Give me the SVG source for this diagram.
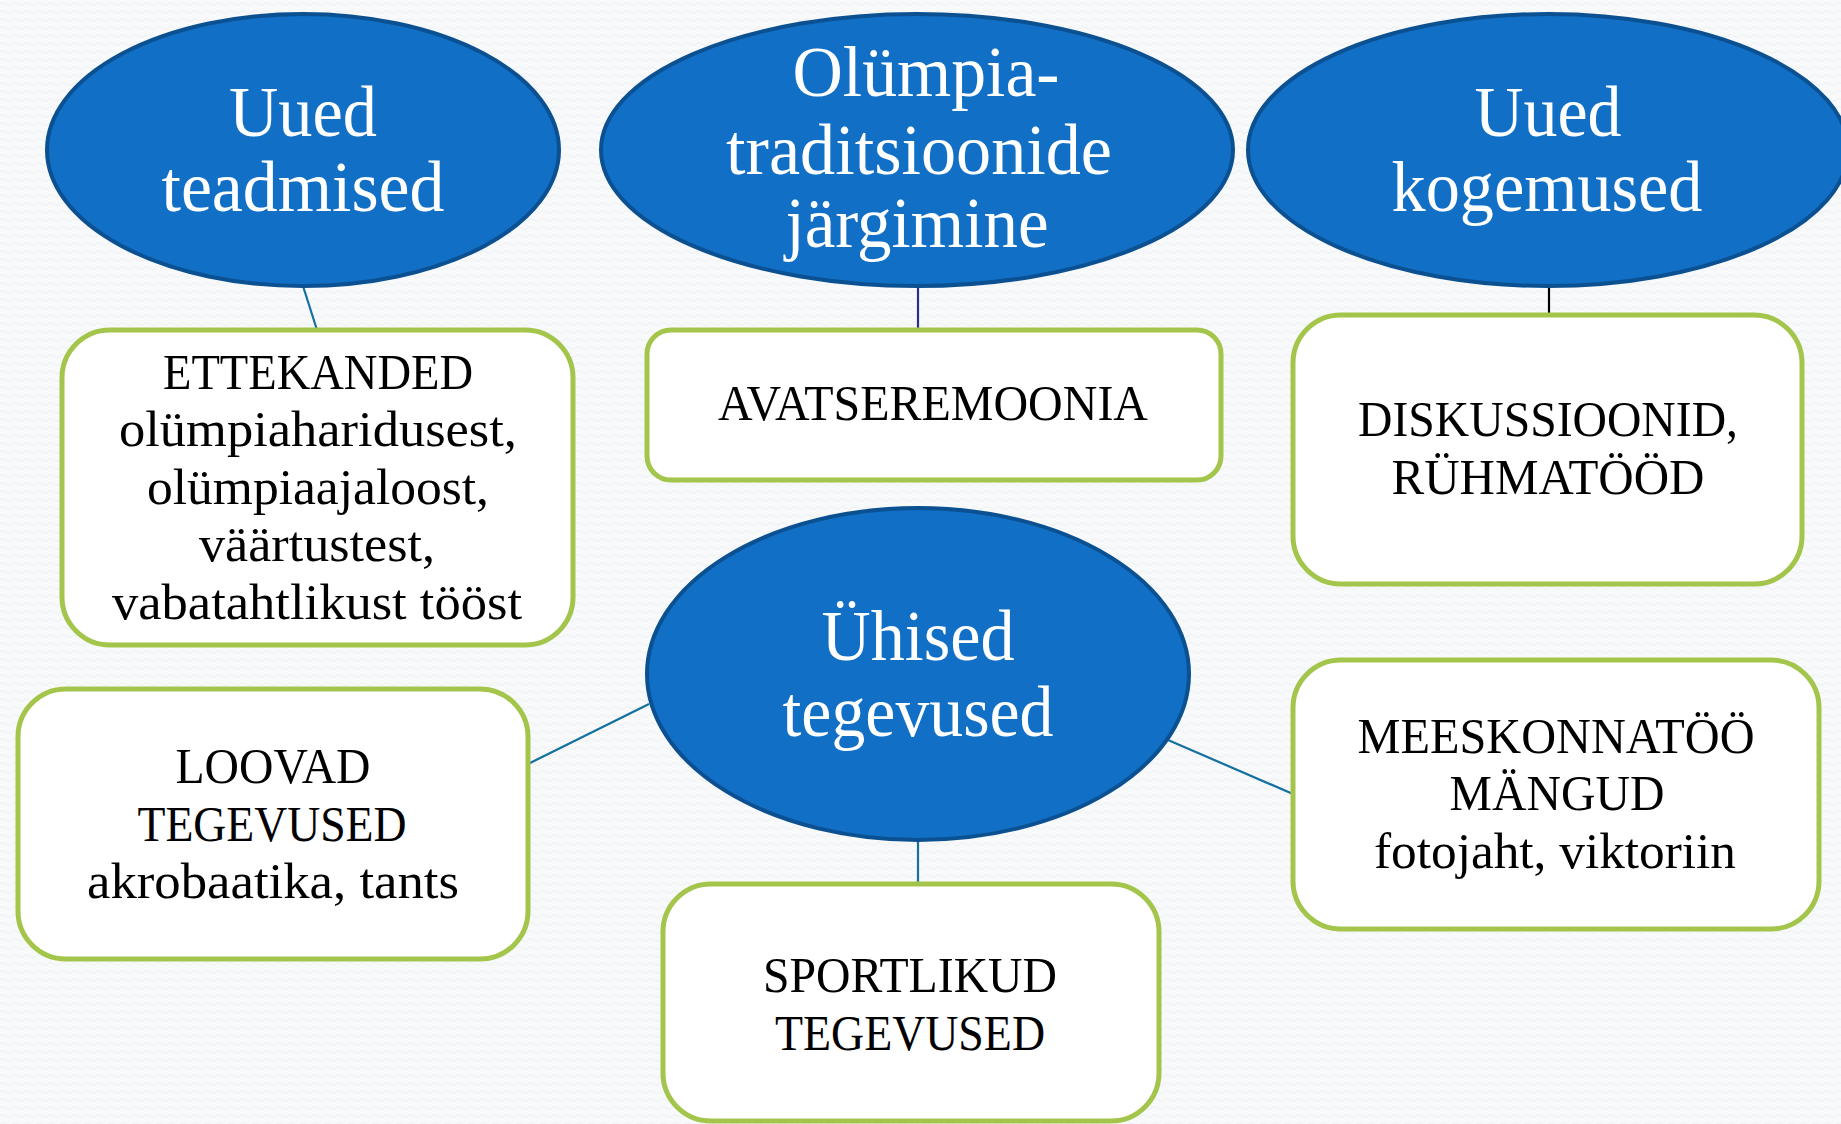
<svg xmlns="http://www.w3.org/2000/svg" width="1841" height="1124" viewBox="0 0 1841 1124">
<style>
.oval{fill:#1170c6;stroke:#0b5091;stroke-width:4}
.box{fill:#ffffff;stroke:#a4c54b;stroke-width:5}
.ot{font-family:"Liberation Serif","DejaVu Serif",serif;font-size:71px;fill:#ffffff;text-anchor:middle}
.bt{font-family:"Liberation Serif","DejaVu Serif",serif;font-size:50px;fill:#000000;text-anchor:middle}
.c{fill:none;stroke-width:2.2}
</style>
<defs>
<pattern id="bg" width="12" height="8" patternUnits="userSpaceOnUse">
<rect width="12" height="8" fill="#f8f9fa"/>
<path d="M0 4 Q3 1 6 4 T12 4" fill="none" stroke="#eef0f3" stroke-width="1"/>
</pattern>
</defs>
<rect width="1841" height="1124" fill="url(#bg)"/>
<g id="connectors">
<line class="c" x1="303" y1="286" x2="317" y2="330" stroke="#13709f"/>
<line class="c" x1="918" y1="286" x2="918" y2="330" stroke="#2b2f87"/>
<line class="c" x1="1549" y1="286" x2="1549" y2="315" stroke="#000000" stroke-width="3"/>
<line class="c" x1="649" y1="704" x2="528" y2="764" stroke="#13709f"/>
<line class="c" x1="1168" y1="740" x2="1293" y2="794" stroke="#13709f"/>
<line class="c" x1="918" y1="841" x2="918" y2="884" stroke="#13709f"/>
</g>
<g id="n-uued-teadmised">
<ellipse class="oval" cx="303" cy="150" rx="256" ry="136"/>
<text class="ot" x="303" y="136" textLength="148" lengthAdjust="spacingAndGlyphs">Uued</text>
<text class="ot" x="303" y="211" textLength="283" lengthAdjust="spacingAndGlyphs">teadmised</text>
</g>
<g id="n-olumpia">
<ellipse class="oval" cx="917" cy="150" rx="316" ry="136"/>
<text class="ot" x="926" y="96" textLength="267" lengthAdjust="spacingAndGlyphs">Olümpia-</text>
<text class="ot" x="919" y="174" textLength="386" lengthAdjust="spacingAndGlyphs">traditsioonide</text>
<text class="ot" x="917" y="247" textLength="263" lengthAdjust="spacingAndGlyphs">järgimine</text>
</g>
<g id="n-uued-kogemused">
<ellipse class="oval" cx="1548" cy="150" rx="300" ry="136"/>
<text class="ot" x="1548" y="136" textLength="147" lengthAdjust="spacingAndGlyphs">Uued</text>
<text class="ot" x="1547" y="211" textLength="311" lengthAdjust="spacingAndGlyphs">kogemused</text>
</g>
<g id="n-ettekanded">
<rect class="box" x="62" y="330" width="511" height="315" rx="48"/>
<text class="bt" x="318" y="389" textLength="310" lengthAdjust="spacingAndGlyphs">ETTEKANDED</text>
<text class="bt" x="318" y="446" textLength="398" lengthAdjust="spacingAndGlyphs">olümpiaharidusest,</text>
<text class="bt" x="318" y="504" textLength="342" lengthAdjust="spacingAndGlyphs">olümpiaajaloost,</text>
<text class="bt" x="317" y="561" textLength="236" lengthAdjust="spacingAndGlyphs">väärtustest,</text>
<text class="bt" x="317" y="619" textLength="410" lengthAdjust="spacingAndGlyphs">vabatahtlikust tööst</text>
</g>
<g id="n-avatseremoonia">
<rect class="box" x="647" y="330" width="574" height="150" rx="24"/>
<text class="bt" x="933" y="420" textLength="430" lengthAdjust="spacingAndGlyphs">AVATSEREMOONIA</text>
</g>
<g id="n-diskussioonid">
<rect class="box" x="1293" y="315" width="509" height="269" rx="48"/>
<text class="bt" x="1548" y="436" textLength="380" lengthAdjust="spacingAndGlyphs">DISKUSSIOONID,</text>
<text class="bt" x="1548" y="494" textLength="313" lengthAdjust="spacingAndGlyphs">RÜHMATÖÖD</text>
</g>
<g id="n-uhised">
<ellipse class="oval" cx="918" cy="674" rx="271" ry="166"/>
<text class="ot" x="918" y="660" textLength="193" lengthAdjust="spacingAndGlyphs">Ühised</text>
<text class="ot" x="918" y="736" textLength="271" lengthAdjust="spacingAndGlyphs">tegevused</text>
</g>
<g id="n-loovad">
<rect class="box" x="18" y="689" width="510" height="270" rx="48"/>
<text class="bt" x="273" y="783" textLength="195" lengthAdjust="spacingAndGlyphs">LOOVAD</text>
<text class="bt" x="272" y="841" textLength="269" lengthAdjust="spacingAndGlyphs">TEGEVUSED</text>
<text class="bt" x="273" y="898" textLength="372" lengthAdjust="spacingAndGlyphs">akrobaatika, tants</text>
</g>
<g id="n-meeskonnatoo">
<rect class="box" x="1293" y="660" width="526" height="269" rx="48"/>
<text class="bt" x="1556" y="753" textLength="397" lengthAdjust="spacingAndGlyphs">MEESKONNATÖÖ</text>
<text class="bt" x="1557" y="810" textLength="215" lengthAdjust="spacingAndGlyphs">MÄNGUD</text>
<text class="bt" x="1555" y="868" textLength="362" lengthAdjust="spacingAndGlyphs">fotojaht, viktoriin</text>
</g>
<g id="n-sportlikud">
<rect class="box" x="663" y="884" width="496" height="237" rx="48"/>
<text class="bt" x="910" y="992" textLength="294" lengthAdjust="spacingAndGlyphs">SPORTLIKUD</text>
<text class="bt" x="910" y="1050" textLength="270" lengthAdjust="spacingAndGlyphs">TEGEVUSED</text>
</g>
</svg>
